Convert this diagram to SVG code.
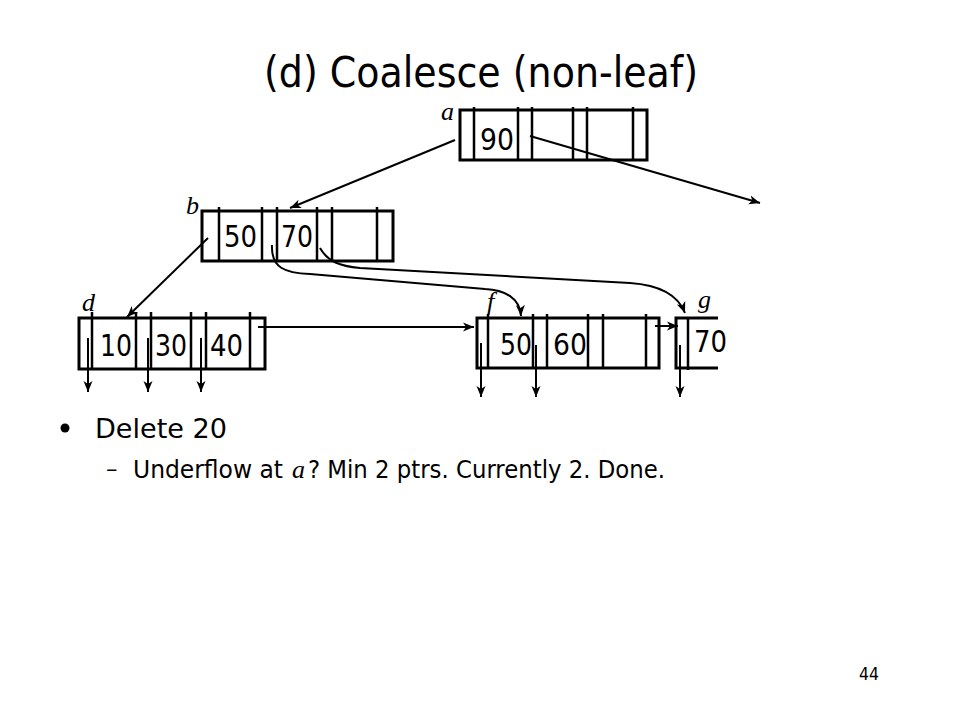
<svg xmlns="http://www.w3.org/2000/svg" width="960" height="720" viewBox="0 0 960 720">
<defs>
<marker id="arr" markerWidth="12" markerHeight="10" refX="11" refY="5" orient="auto" markerUnits="userSpaceOnUse">
<path d="M0,0.5 L11,5 L0,9.5 L3,5 z" fill="#000"/>
</marker>
<style>
.box{fill:none;stroke:#000;stroke-width:3}
.div{stroke:#000;stroke-width:2.5}
.k{font-family:"DejaVu Sans","Liberation Sans",sans-serif;font-size:31px;fill:#000}
.lbl{font-family:"Liberation Serif","DejaVu Serif",serif;font-style:italic;font-size:26px;fill:#000}
.c{fill:none;stroke:#000;stroke-width:2;marker-end:url(#arr)}
.t{font-family:"DejaVu Sans","Liberation Sans",sans-serif;fill:#000}
</style>
</defs>
<rect width="960" height="720" fill="#fff"/>
<text class="t" x="264" y="87" font-size="43" textLength="434" lengthAdjust="spacingAndGlyphs">(d) Coalesce (non-leaf)</text>

<g id="node-a">
<rect class="box" x="460" y="110" width="187" height="50"/>
<path class="div" d="M474,107V160M518,107V160M532,107V160M573,107V160M587,107V160M633,107V160"/>
<text class="k" x="480" y="150" textLength="34" lengthAdjust="spacingAndGlyphs">90</text>
<text class="lbl" x="441" y="120">a</text>
</g>
<g id="node-b">
<rect class="box" x="202" y="211" width="191" height="50"/>
<path class="div" d="M219,207V261M262,207V261M277,207V261M317,207V261M332,207V261M377,207V261"/>
<text class="k" x="224" y="247" textLength="33" lengthAdjust="spacingAndGlyphs">50</text>
<text class="k" x="281" y="247" textLength="32" lengthAdjust="spacingAndGlyphs">70</text>
<text class="lbl" x="186" y="214">b</text>
</g>
<g id="node-d">
<rect class="box" x="79" y="318" width="186" height="51"/>
<path class="div" d="M92,312V370M136,312V370M151,312V370M191,312V370M206,312V370M250,312V370"/>
<text class="k" x="100" y="356" textLength="32" lengthAdjust="spacingAndGlyphs">10</text>
<text class="k" x="155" y="356" textLength="32" lengthAdjust="spacingAndGlyphs">30</text>
<text class="k" x="210" y="356" textLength="33" lengthAdjust="spacingAndGlyphs">40</text>
<text class="lbl" x="82" y="311">d</text>
</g>
<g id="node-f">
<rect class="box" x="477" y="318" width="182" height="50"/>
<path class="div" d="M488,314V368M533,314V368M547,314V368M588,314V368M603,314V368M646,314V368"/>
<text class="k" x="500" y="355" textLength="32" lengthAdjust="spacingAndGlyphs">50</text>
<text class="k" x="553" y="355" textLength="34" lengthAdjust="spacingAndGlyphs">60</text>
<text class="lbl" x="487" y="310">f</text>
</g>
<g id="node-g">
<path class="box" d="M718,318H676V368H718"/>
<path class="div" d="M688,318V370"/>
<text class="k" x="694" y="352" textLength="33" lengthAdjust="spacingAndGlyphs">70</text>
<text class="lbl" x="698" y="308">g</text>
</g>

<g id="connectors">
<path class="c" d="M455,140 L290,208"/>
<path class="c" d="M530,136 L760,203"/>
<path class="c" d="M208,238 L127,317"/>
<path class="c" d="M272,245 C271,268 285,273 310,274 L485,289 C505,290 520,298 521,316"/>
<path class="c" d="M320,248 C328,262 340,266 360,268 L630,283 C660,285 678,295 685,313"/>
<path class="c" d="M258,327 L474,327"/>
<path class="c" d="M655,326 L678,326"/>
<path class="c" d="M88,338 L88,392"/>
<path class="c" d="M148,338 L148,392"/>
<path class="c" d="M201,338 L201,392"/>
<path class="c" d="M481,343 L481,397" stroke-width="3"/>
<path class="c" d="M536,345 L536,397"/>
<path class="c" d="M680,345 L680,397"/>
</g>

<circle cx="65" cy="428" r="4.5" fill="#000"/>
<text class="t" x="95" y="438" font-size="27" textLength="132" lengthAdjust="spacingAndGlyphs">Delete 20</text>
<text class="t" x="106" y="477" font-size="23">–</text>
<text class="t" x="133" y="478" font-size="24" textLength="150" lengthAdjust="spacingAndGlyphs">Underflow at</text>
<text class="lbl" x="292" y="478">a</text>
<text class="t" x="308" y="478" font-size="24" textLength="357" lengthAdjust="spacingAndGlyphs">? Min 2 ptrs. Currently 2. Done.</text>
<text class="t" x="859" y="680" font-size="18" textLength="20" lengthAdjust="spacingAndGlyphs">44</text>
</svg>
